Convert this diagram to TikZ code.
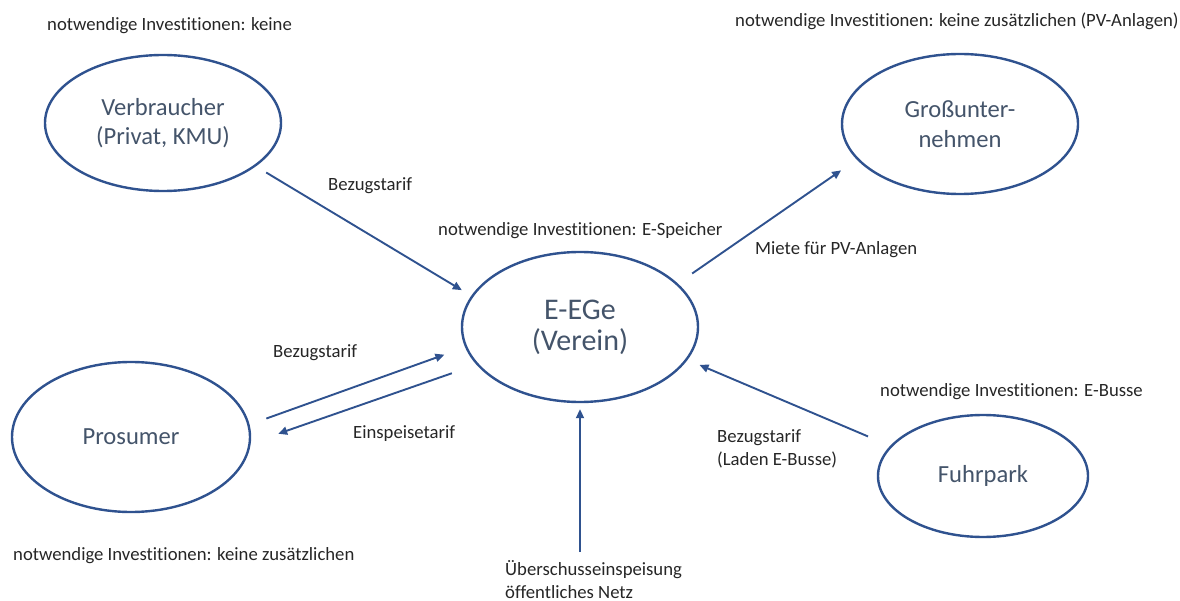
\documentclass[tikz,border=0pt]{standalone}
\usepackage{fontspec}
\setmainfont{Carlito}[Ligatures = NoCommon]
\usetikzlibrary{shapes.geometric,arrows.meta}

\definecolor{egeblau}{RGB}{47,82,143}
\definecolor{egetext}{RGB}{68,84,106}
\definecolor{notiz}{RGB}{38,38,38}

\tikzset{
	egepicture/.style = {
		x = 1pt,
		y = -1pt,
		arrow/.style = {
			draw = egeblau,
			line width = 1.9pt,
			-{Triangle[length=9pt, width=8pt]},
		}
	},
	partner/.style = {
		ellipse,
		draw = egeblau,
		line width = 2.4pt,
		inner sep = 0pt,
		minimum width = 236pt,
		minimum height = 136pt,
		text = egetext,
		align = center,
		font = \fontsize{24.6}{29.5}\selectfont
	},
	zentrale/.style = {
		partner,
		minimum height = 150pt,
		font = \fontsize{30}{31}\selectfont
	},
	hinweis/.style = {
		anchor = base west,
		inner sep = 0pt,
		text = notiz,
		align = left,
		font = \fontsize{18.7}{22.5}\selectfont
	}
}

\begin{document}
\begin{tikzpicture}[egepicture]
	\useasboundingbox (0,0) rectangle (1180,601);

	\node[partner] (verbraucher) at (163,123) {Verbraucher\\(Privat, KMU)};
	\node[partner, minimum height = 140pt] (gross) at (960,124) {Großunter-\\nehmen};
	\node[zentrale] (eege) at (580,327) {E-EGe\\(Verein)};
	\node[partner, minimum width = 238pt, minimum height = 150pt] (prosumer) at (131,437) {Prosumer};
	\node[partner, minimum width = 210pt, minimum height = 122pt] (fuhrpark) at (983,476) {Fuhrpark};

	\node[hinweis] (inv-verbraucher) at (47,30.5) {notwendige Investitionen: keine};
	\node[hinweis] (inv-gross) at (735,27) {notwendige Investitionen: keine zusätzlichen (PV-Anlagen)};
	\node[hinweis] (inv-eege) at (438,236) {notwendige Investitionen: E-Speicher};
	\node[hinweis] (inv-fuhrpark) at (880,396) {notwendige Investitionen: E-Busse};
	\node[hinweis] (inv-prosumer) at (13,560) {notwendige Investitionen: keine zusätzlichen};

	\node[hinweis] (t-verbraucher) at (328,191) {Bezugstarif};
	\node[hinweis] (t-gross) at (755,255) {Miete für PV-Anlagen};
	\node[hinweis] (t-bezug) at (273,357) {Bezugstarif};
	\node[hinweis] (t-einspeisung) at (353,438) {Einspeisetarif};
	\node[hinweis] (t-fuhrpark) at (717,465) {Bezugstarif\\(Laden E-Busse)};
	\node[hinweis] (netz) at (505,598) {Überschusseinspeisung\\öffentliches Netz};

	\coordinate (netzeinspeisung) at (580,552);

	\begin{scope}[every path/.style = arrow]
		\path[shorten <= 12pt, shorten >= 11pt] (verbraucher.-25) -- (eege.164.9);
		\path[shorten <= 17.5pt, shorten >= 19pt] (eege.24.8) -- (gross.199);
		\path[shorten <= 17.8pt, shorten >= 22pt] (prosumer.6.5) -- (eege.190.9);
		\path[shorten <= 26pt, shorten >= 29pt] (eege.200.8) -- (prosumer.-3.6);
		\path[shorten <= 24pt, shorten >= 13pt] (fuhrpark.162.9) -- (eege.-17.2);
		\path[shorten >= 6pt] (netzeinspeisung) -- (eege.south);
	\end{scope}
\end{tikzpicture}
\end{document}
